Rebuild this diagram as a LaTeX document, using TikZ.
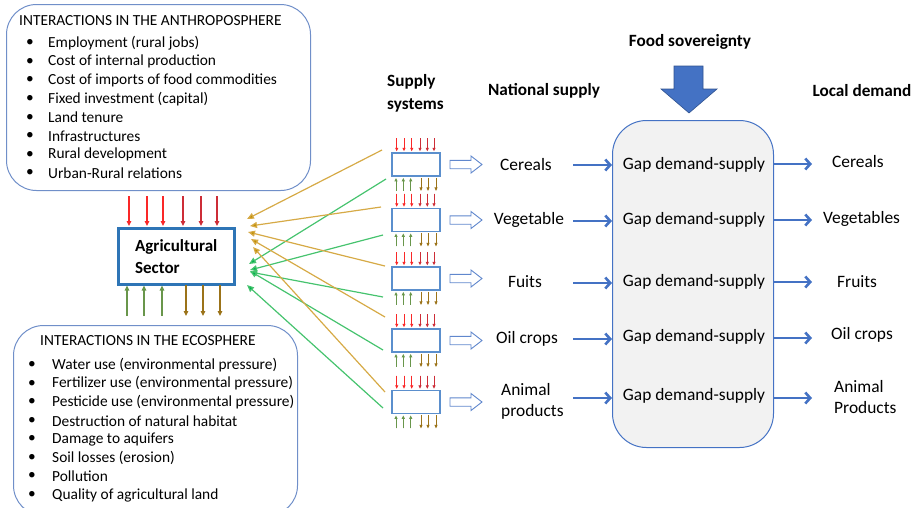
\documentclass[tikz,border=0pt]{standalone}
\usepackage{fontspec}
\setmainfont{Carlito}
\usetikzlibrary{arrows.meta,calc}

\definecolor{frameblue}{RGB}{112,143,201}
\definecolor{secblue}{RGB}{46,117,182}
\definecolor{boxblue}{RGB}{91,143,205}
\definecolor{flowblue}{RGB}{68,114,196}
\definecolor{darkblue}{RGB}{47,82,143}
\definecolor{gapfill}{RGB}{242,242,242}
\definecolor{goldline}{RGB}{214,170,70}
\definecolor{goldtip}{RGB}{191,143,0}
\definecolor{greenline}{RGB}{70,195,110}
\definecolor{greentip}{RGB}{0,176,80}
\definecolor{redA}{RGB}{250,40,40}
\definecolor{redB}{RGB}{205,45,55}
\definecolor{upgreen}{RGB}{105,150,75}
\definecolor{downbrown}{RGB}{155,115,25}

\tikzset{
  listtxt/.style={inner sep=0pt, font=\fontsize{15.4}{18.6}\selectfont},
  txt/.style={inner sep=0pt, font=\fontsize{17.4}{21}\selectfont},
  hdr/.style={inner sep=0pt, font=\fontsize{17.2}{23}\selectfont\bfseries},
  roundbox/.style={draw=frameblue, line width=1pt, rounded corners=30pt, inner sep=0pt},
  sbox/.style={draw=boxblue, line width=1.8pt, fill=white, minimum width=48pt, minimum height=23pt, inner sep=0pt},
  flow/.style={draw=flowblue, line width=2.6pt, -{Straight Barb[length=5pt,width=11pt]}},
  hollow/.style={draw=flowblue!85, line width=0.9pt, fill=white},
  tickin/.style={line width=1.1pt, -{Triangle[length=5pt,width=4.5pt]}},
  ticksmall/.style={line width=0.9pt, -{Triangle[length=3.5pt,width=3pt]}},
  goldlink/.style={draw=goldline, line width=1.2pt, -{Triangle[length=7pt,width=6pt,fill=goldtip]}},
  greenlink/.style={draw=greenline, line width=1.2pt, -{Triangle[length=7pt,width=6pt,fill=greentip]}},
}

\begin{document}
\begin{tikzpicture}[x=1pt,y=-1pt]
\useasboundingbox (0,0) rectangle (918,507);
\begin{scope}
\clip (0,0) rectangle (918,507);

% ---- anthroposphere panel
\node[roundbox, minimum width=304pt, minimum height=186pt, anchor=north west] (anthro) at (6,4) {};
\node[listtxt, anchor=west] (anthrotitle) at (19,21) {INTERACTIONS IN THE ANTHROPOSPHERE};
\foreach \t [count=\i] in {Employment (rural jobs), Cost of internal production,
    Cost of imports of food commodities, Fixed investment (capital), Land tenure,
    Infrastructures, Rural development, Urban-Rural relations} {
  \node[listtxt] (ab\i) at (30,{43.3+18.57*(\i-1)}) {\textbullet};
  \node[listtxt, anchor=west] (at\i) at (48,{43.3+18.57*(\i-1)}) {\t};
}

% ---- ecosphere panel
\node[roundbox, minimum width=284pt, minimum height=190pt, anchor=north west] (eco) at (13,325) {};
\node[listtxt, anchor=west] (ecotitle) at (40,341) {INTERACTIONS IN THE ECOSPHERE};
\foreach \t [count=\i] in {Water use (environmental pressure), Fertilizer use (environmental pressure),
    Pesticide use (environmental pressure), Destruction of natural habitat,
    Damage to aquifers, Soil losses (erosion), Pollution, Quality of agricultural land} {
  \node[listtxt] (eb\i) at (32,{365+18.57*(\i-1)}) {\textbullet};
  \node[listtxt, anchor=west] (et\i) at (52,{365+18.57*(\i-1)}) {\t};
}
\end{scope}

% ---- agricultural sector
\node[draw=secblue, line width=2.5pt, minimum width=116pt, minimum height=56pt,
      anchor=north west, align=left, inner sep=0pt,
      font=\fontsize{17}{22}\selectfont\bfseries] (agri) at (117,227) {Agricultural\\Sector};
\foreach \x/\c in {129/redA,147/redA,163/redA,183/redB,201/redB,217/redB}
  \draw[tickin, draw=\c, fill=\c] (\x,196) -- (\x,226);
\foreach \x in {127,144,162}
  \draw[tickin, draw=upgreen, fill=upgreen] (\x,316) -- (\x,285.5);
\foreach \x in {186,203,220}
  \draw[tickin, draw=downbrown, fill=downbrown] (\x,285) -- (\x,316);

% ---- supply systems
\foreach \y [count=\i] in {164.5,220,278.5,340.5,402} {
  \node[sbox] (s\i) at (416,\y) {};
  \foreach \dx/\c in {-19.3/redA,-12/redA,-4.3/redA,4/redB,11.3/redB,18/redB}
    \draw[ticksmall, draw=\c, fill=\c] ($(s\i.north)+(\dx,-14)$) -- ($(s\i.north)+(\dx,-0.8)$);
  \foreach \dx in {-20,-12.7,-5.3}
    \draw[ticksmall, draw=upgreen, fill=upgreen] ($(s\i.south)+(\dx,14)$) -- ($(s\i.south)+(\dx,1)$);
  \foreach \dx in {5,12,20}
    \draw[ticksmall, draw=downbrown, fill=downbrown] ($(s\i.south)+(\dx,1)$) -- ($(s\i.south)+(\dx,14)$);
  % hollow arrow towards the national supply
  \coordinate (h\i) at (450,\y);
  \draw[hollow] ($(h\i)+(0,-4.2)$) -- ($(h\i)+(21,-4.2)$) -- ($(h\i)+(21,-8.5)$) -- ($(h\i)+(32,0)$)
     -- ($(h\i)+(21,8.5)$) -- ($(h\i)+(21,4.2)$) -- ($(h\i)+(0,4.2)$) -- cycle;
}

% ---- links from the supply systems to the agricultural sector
\coordinate (gs1) at (382,150); \coordinate (gt1) at (247,219);
\coordinate (gs2) at (381,207); \coordinate (gt2) at (250,226);
\coordinate (gs3) at (385,266); \coordinate (gt3) at (248,232);
\coordinate (gs4) at (385,317); \coordinate (gt4) at (251,239);
\coordinate (gs5) at (385,392); \coordinate (gt5) at (253,247);
\coordinate (es1) at (386,179); \coordinate (et1) at (249,264);
\coordinate (es2) at (383,235); \coordinate (et2) at (250,270);
\coordinate (es3) at (383,297); \coordinate (et3) at (250,272);
\coordinate (es4) at (383,350); \coordinate (et4) at (250,271);
\coordinate (es5) at (383,408); \coordinate (et5) at (247,285);
\foreach \i in {1,...,5} {
  \draw[goldlink] (gs\i) -- (gt\i);
  \draw[greenlink] (es\i) -- (et\i);
}

% ---- headers
\node[hdr, align=left, anchor=west] (supplyhdr) at (387,93) {Supply\\systems};
\node[hdr] (nathdr) at (544,91) {National supply};
\node[hdr] (foodhdr) at (690,42) {Food sovereignty};
\node[hdr] (localhdr) at (862,91) {Local demand};

% ---- gap box
\node[draw=flowblue, line width=1pt, fill=gapfill, rounded corners=34pt, inner sep=0pt,
      minimum width=161pt, minimum height=327pt, anchor=north west] (gap) at (612,120) {};
\filldraw[fill=flowblue, draw=darkblue, line width=0.6pt]
  (674,66) -- (703,66) -- (703,89) -- (717,89) -- (689,113) -- (661,89) -- (674,89) -- cycle;

% ---- national supply, gaps and local demand
\node[txt] (n1) at (526,165) {Cereals};
\node[txt] (n2) at (529,220) {Vegetable};
\node[txt] (n3) at (525,282) {Fuits};
\node[txt] (n4) at (527,339) {Oil crops};
\node[txt, align=left, anchor=west] (n5) at (501,401) {Animal\\products};

\foreach \y [count=\i] in {165,221,283,339,398} {
  \coordinate (r\i) at (573,\y);
  \draw[flow] (r\i) -- (r\i -| gap.west);
}
\foreach \y [count=\i] in {165,220,282,337,396} {
  \node[txt] (g\i) at (694,\y) {Gap demand-supply};
}
\foreach \y [count=\i] in {164,220,282,338,398} {
  \coordinate (o\i) at (812,\y);
  \draw[flow] (o\i -| gap.east) -- (o\i);
}

\node[txt, anchor=west] (d1) at (832,162) {Cereals};
\node[txt, anchor=west] (d2) at (823,219) {Vegetables};
\node[txt, anchor=west] (d3) at (837,282) {Fruits};
\node[txt, anchor=west] (d4) at (831,335) {Oil crops};
\node[txt, align=left, anchor=west] (d5) at (834,397.5) {Animal\\Products};
\end{tikzpicture}
\end{document}
